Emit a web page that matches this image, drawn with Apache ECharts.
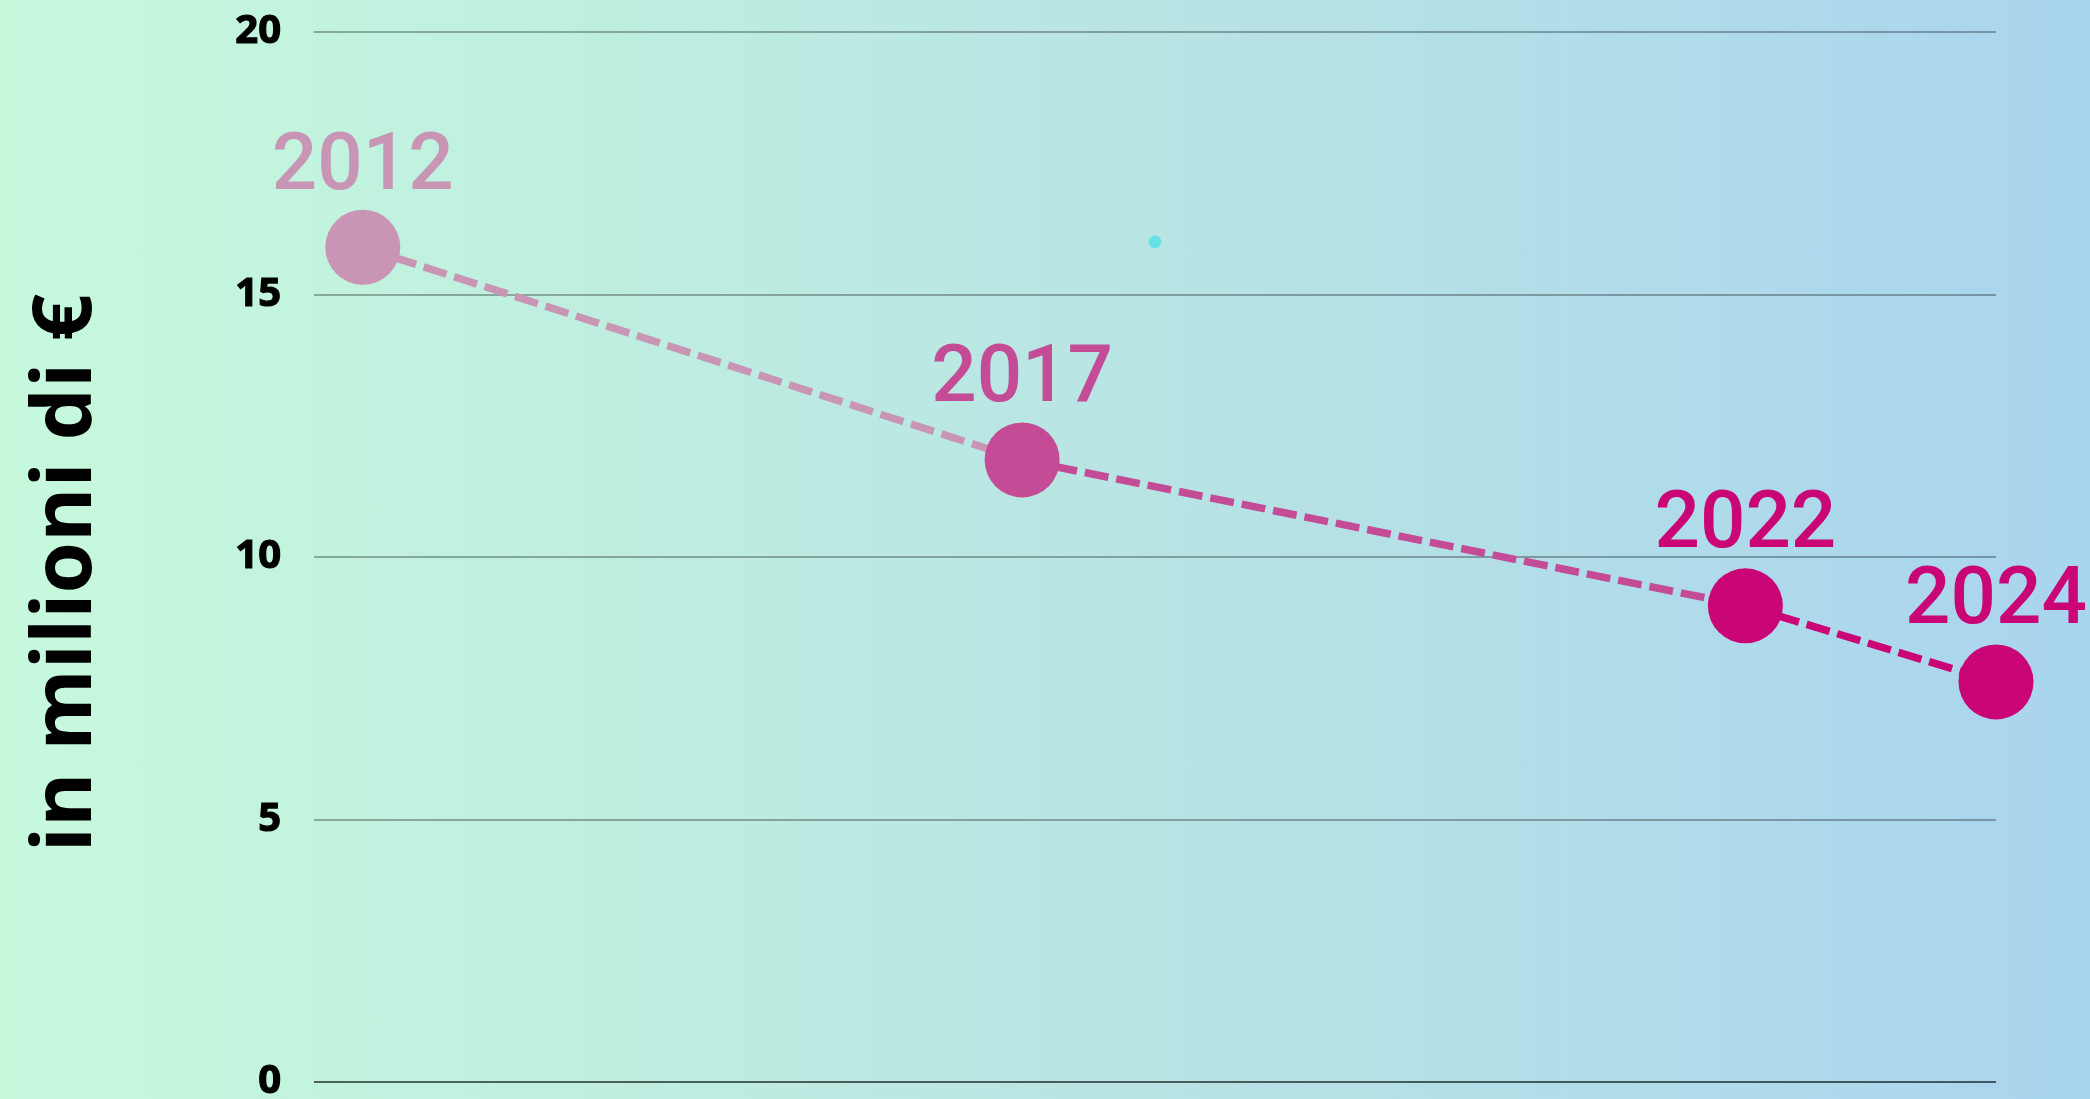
<!DOCTYPE html>
<html>
<head>
<meta charset="utf-8">
<script src="https://cdn.jsdelivr.net/npm/echarts@6/dist/echarts.min.js"></script>
<style>
html,body{margin:0;padding:0;}
body{background:linear-gradient(to right,#c6f9dc 0%,#b8e4e4 55%,#a9d4ee 100%);}
#chart{width:2090px;height:1099px;}
</style>
</head>
<body>
<div id="chart"></div>
<script>
const categories = ['2012', '2017', '2022', '2024'];
const values = [15.9, 11.85, 9.07, 7.62];
const xPositions = [2.9, 42.1, 85.1, 100];
const pointColors = ['#c895b4', '#c44c96', '#ca0677', '#ca0677'];
const yTickMin = 0, yTickMax = 20, yTickStep = 5;
const strayPoint = [[50, 16]];
const axisTitle = 'in milioni di €';

const chart = echarts.init(document.getElementById('chart'), null, {renderer: 'canvas'});

const series = [];
for (let i = 0; i < values.length - 1; i++) {
  series.push({
    type: 'line',
    data: [[xPositions[i], values[i]], [xPositions[i + 1], values[i + 1]]],
    symbol: 'none',
    lineStyle: {color: pointColors[i], width: 7.5, type: [24, 8], opacity: 1},
    z: 2,
    silent: true
  });
}
series.push({
  type: 'scatter',
  data: values.map((v, i) => ({
    value: [xPositions[i], v],
    name: categories[i],
    itemStyle: {color: pointColors[i], opacity: 1},
    label: {color: pointColors[i]}
  })),
  symbol: 'circle',
  symbolSize: 75,
  z: 3,
  itemStyle: {opacity: 1},
  label: {
    show: true,
    position: 'top',
    distance: 1,
    formatter: p => p.name,
    fontFamily: 'Roboto',
    fontWeight: 500,
    fontSize: 80
  }
});
series.push({
  type: 'scatter',
  data: strayPoint,
  symbolSize: 13,
  itemStyle: {color: '#66e0e6', opacity: 1},
  z: 3
});

chart.setOption({
  backgroundColor: 'transparent',
  animation: false,
  grid: {left: 314, right: 94, top: 32, bottom: 17, containLabel: false, outerBoundsMode: 'none'},
  xAxis: {
    type: 'value', min: 0, max: 100,
    show: false
  },
  yAxis: {
    type: 'value', min: yTickMin, max: yTickMax, interval: yTickStep,
    name: axisTitle,
    nameLocation: 'middle',
    nameRotate: 90,
    nameGap: 205,
    nameTextStyle: {fontFamily: 'Open Sans', fontWeight: 'bold', fontSize: 83, color: '#000', padding: [0, 32, 0, 0]},
    axisLine: {show: false},
    axisTick: {show: false},
    axisLabel: {fontFamily: 'Open Sans', fontWeight: 'bold', fontSize: 40, color: '#000', margin: 33,
                textBorderColor: '#000', textBorderWidth: 1.2},
    splitLine: {
      show: true,
      lineStyle: {color: ['rgba(0,0,0,0.6)', 'rgba(0,0,0,0.3)', 'rgba(0,0,0,0.3)', 'rgba(0,0,0,0.3)', 'rgba(0,0,0,0.3)'], width: 2}
    }
  },
  series: series
});
</script>
</body>
</html>
